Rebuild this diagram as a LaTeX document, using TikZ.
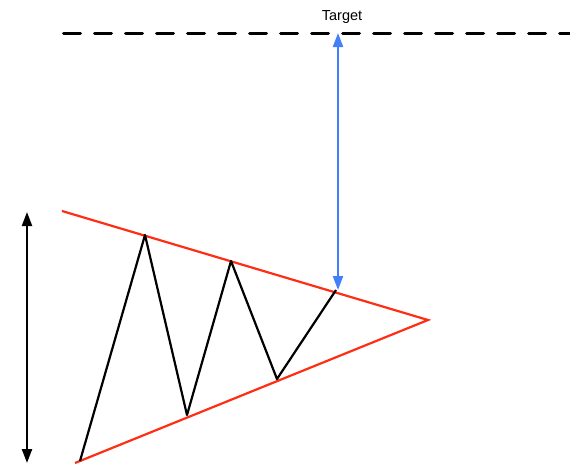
\documentclass[tikz,border=0pt]{standalone}
\usepackage{fontspec}
\setmainfont{Liberation Sans}
\usetikzlibrary{arrows.meta}
\definecolor{wedgeRed}{RGB}{255,45,20}
\definecolor{gapBlue}{RGB}{66,128,250}

\begin{document}
\begin{tikzpicture}[x=1pt, y=-1pt, >={Triangle[length=14pt,width=10pt]},
  wedge/.style={wedgeRed, line width=2.2pt},
  swing/.style={black, line width=2.2pt, line join=round},
  span/.style={<->, line width=2.2pt}]
  \useasboundingbox (0,0) rectangle (570,463);

  % target level
  \coordinate (goalL) at (63.5,33);
  \coordinate (goalR) at (572,33);
  \draw[black, line width=3pt, line cap=round, dash pattern=on 17pt off 14pt] (goalL) -- (goalR);
  \node[font=\fontsize{14.5}{16}\selectfont] (target) at (342,17) {Target};

  % converging wedge
  \coordinate (topL) at (62,211);
  \coordinate (botL) at (75,463);
  \coordinate (apex) at (428,320);
  \draw[wedge] (topL) -- (apex) -- (botL);

  % price swings
  \coordinate (s0) at (80,461);
  \coordinate (s1) at (145,235);
  \coordinate (s2) at (187,415);
  \coordinate (s3) at (231,261);
  \coordinate (s4) at (277,379);
  \coordinate (s5) at (336,290);
  \draw[swing] (s0) -- (s1) -- (s2) -- (s3) -- (s4) -- (s5);

  % heights
  \coordinate (hTop) at (27,212);
  \coordinate (hBot) at (27,463);
  \draw[span, black] (hTop) -- (hBot);
  \coordinate (gTop) at (338,33);
  \coordinate (gBot) at (338,290);
  \draw[span, gapBlue] (gTop) -- (gBot);
\end{tikzpicture}
\end{document}
